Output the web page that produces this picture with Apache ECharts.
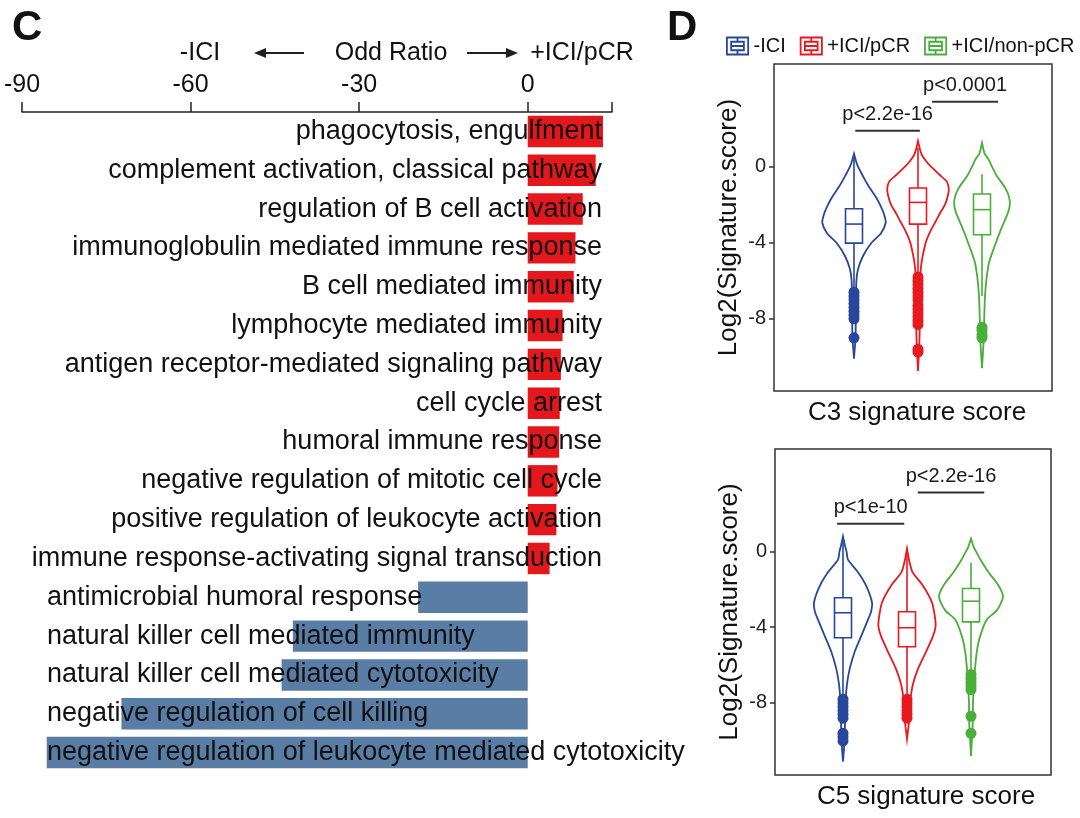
<!DOCTYPE html>
<html><head><meta charset="utf-8">
<script src="https://cdn.jsdelivr.net/npm/echarts@6/dist/echarts.min.js"></script>
<style>html,body{margin:0;padding:0;background:#fff}#c{width:1080px;height:818px}</style>
</head><body><div id="c"></div>
<script>
// ---------- Panel C data ----------
const terms = [
  'phagocytosis, engulfment',
  'complement activation, classical pathway',
  'regulation of B cell activation',
  'immunoglobulin mediated immune response',
  'B cell mediated immunity',
  'lymphocyte mediated immunity',
  'antigen receptor-mediated signaling pathway',
  'cell cycle arrest',
  'humoral immune response',
  'negative regulation of mitotic cell cycle',
  'positive regulation of leukocyte activation',
  'immune response-activating signal transduction',
  'antimicrobial humoral response',
  'natural killer cell mediated immunity',
  'natural killer cell mediated cytotoxicity',
  'negative regulation of cell killing',
  'negative regulation of leukocyte mediated cytotoxicity'
];
const oddRatio = [13.4, 12.1, 9.8, 8.5, 8.2, 6.2, 5.9, 5.7, 5.6, 5.3, 5.1, 3.9,
                  -19.5, -41.8, -43.8, -72.3, -85.6];
const oddTicks = [-90, -60, -30, 0];

// ---------- Panel D data ----------
const groups = ['-ICI', '+ICI/pCR', '+ICI/non-pCR'];
const sigTicks = [-8, -4, 0];
// box stats: [lower whisker, Q1, median, Q3, upper whisker]
const c3Box = [[-6.5, -4.02, -3.02, -2.21, 0.5], [-5.7, -3.02, -1.88, -1.12, 1.0], [-6.8, -3.58, -2.26, -1.44, -0.4]];
const c5Box = [[-7.6, -4.56, -3.24, -2.45, 0.5], [-7.6, -5.03, -4.03, -3.19, -0.1], [-6.3, -3.72, -2.63, -1.96, -0.6]];
// violin density profiles (value levels and relative density)
const c3BlueY  = [0.68, 0.3, 0, -0.5, -0.68, -1.1, -1.58, -2, -2.5, -2.95, -3.5, -4, -4.7, -5.4, -6, -7, -8, -9, -10.1];
const c3BlueD  = [0, 2, 4, 9, 10.8, 15.5, 21.7, 26, 30, 31.7, 27, 17.5, 9, 4, 2.4, 2, 1.8, 1.5, 0];
const c3RedY   = [1.35, 0.9, 0.6, 0.3, 0, -0.4, -0.8, -1.2, -1.6, -2, -2.4, -2.9, -3.3, -3.8, -4.2, -5, -5.6, -7, -9, -10.75];
const c3RedD   = [0, 2, 4, 8, 13, 21, 29, 30.8, 29.5, 27, 22.5, 17.5, 13.3, 9, 6.7, 3.7, 2.5, 2, 1.5, 0];
const c3GreenY = [1.26, 0.7, 0.37, 0, -0.5, -1.1, -1.58, -2, -2.42, -3.3, -4.2, -5.05, -5.9, -6.8, -8, -9, -10.6];
const c3GreenD = [0, 2.5, 6.7, 10, 15, 23, 27, 27.8, 26, 19, 12.5, 7, 4.5, 3, 2.2, 1.8, 0];
const c5BlueY  = [0.79, 0.3, 0, -0.44, -1.1, -1.8, -2.7, -3.2, -3.6, -4.5, -5.3, -6.2, -7, -8, -9, -10, -11.1];
const c5BlueD  = [0, 2, 3.5, 5, 15, 23, 29, 28, 25, 18, 11.7, 6.7, 4, 2.5, 2, 1.5, 0];
const c5RedY   = [0.15, -0.44, -1.1, -1.8, -2.7, -3.6, -4.0, -4.5, -5.3, -6.2, -7, -8, -9, -9.9];
const c5RedD   = [0, 2, 5.5, 15.8, 25, 28.3, 28.5, 25.8, 19, 11, 6, 3, 2, 0];
const c5GreenY = [0.67, 0.2, 0, -0.44, -1.1, -1.8, -2.4, -3.1, -3.6, -4.5, -5.3, -6.2, -7, -8, -9, -10.8];
const c5GreenD = [0, 3, 5, 9.5, 17.5, 27.5, 32, 26, 15.8, 9, 5.8, 4, 3, 2, 1.8, 0];
// outliers
const c3Out = [
  [-6.6, -6.8, -7.0, -7.2, -7.4, -7.6, -7.8, -8.0, -9.0],
  [-5.8, -6.0, -6.2, -6.4, -6.6, -6.8, -7.0, -7.3, -7.5, -7.7, -7.9, -8.1, -8.3, -9.6, -9.75],
  [-8.45, -8.6, -8.85, -9.0]
];
const c5Out = [
  [-7.8, -8.0, -8.2, -8.4, -8.6, -8.8, -9.6, -9.8, -10.0],
  [-7.8, -8.0, -8.2, -8.4, -8.6, -8.8],
  [-6.5, -6.7, -6.9, -7.1, -7.3, -8.7, -9.6]
];
const c3Sig = ['p<2.2e-16', 'p<0.0001'];
const c5Sig = ['p<1e-10', 'p<2.2e-16'];

// ---------- layout / style ----------
const FONT = 'Liberation Sans, Arial, sans-serif';
const RED = '#e3171c', BLUEBAR = '#5a7da6';
const gColors = ['#26479a', '#e8191f', '#4aae3a'];
const topPos = [1.25, 2.25, 3.25];
const botPos = [1.0625, 2.0625, 3.0625];
const DENS = 1 / 64;       // density -> x units
const BOXHALF = 8.5 / 64;  // box half width in x units
const topBrackets = [[1.27, 2.28, 1.89], [2.47, 3.5, 3.42]];
const botBrackets = [[0.97, 2.02, 1.46], [2.23, 3.27, 3.1]];

const posSet = new Set(terms.filter((t, i) => oddRatio[i] >= 0));
const negSet = new Set(terms.filter((t, i) => oddRatio[i] < 0));

function violinRenderer(profY, profD) {
  return function (params, api) {
    const x = api.value(0);
    const color = api.visual('color');
    const pts = [];
    for (let i = 0; i < profY.length; i++) pts.push(api.coord([x + profD[i] * DENS, profY[i]]));
    for (let i = profY.length - 1; i >= 0; i--) pts.push(api.coord([x - profD[i] * DENS, profY[i]]));
    const lo = api.coord([x, api.value(1)]), q1 = api.coord([x, api.value(2)]),
          med = api.coord([x, api.value(3)]), q3 = api.coord([x, api.value(4)]), hi = api.coord([x, api.value(5)]);
    const l = api.coord([x - BOXHALF, 0])[0], r = api.coord([x + BOXHALF, 0])[0];
    const ls = { stroke: color, lineWidth: 1.6, fill: null };
    return { type: 'group', children: [
      { type: 'polygon', shape: { points: pts, smooth: 0.25 }, style: { fill: '#fff', stroke: color, lineWidth: 1.8 } },
      { type: 'line', shape: { x1: lo[0], y1: lo[1], x2: q1[0], y2: q1[1] }, style: ls },
      { type: 'line', shape: { x1: q3[0], y1: q3[1], x2: hi[0], y2: hi[1] }, style: ls },
      { type: 'rect', shape: { x: l, y: q3[1], width: r - l, height: q1[1] - q3[1] }, style: { fill: '#fff', stroke: color, lineWidth: 1.6 } },
      { type: 'line', shape: { x1: l, y1: med[1], x2: r, y2: med[1] }, style: ls }
    ] };
  };
}
function sigRenderer(labels) {
  return function (params, api) {
    const a = api.coord([api.value(0), api.value(2)]);
    const b = api.coord([api.value(1), api.value(2)]);
    return { type: 'group', children: [
      { type: 'line', shape: { x1: a[0], y1: a[1], x2: b[0], y2: b[1] }, style: { stroke: '#333', lineWidth: 2 } },
      { type: 'text', x: (a[0] + b[0]) / 2, y: a[1] - 16,
        style: { text: labels[params.dataIndex], font: '20px ' + FONT, fill: '#1a1a1a', align: 'center', verticalAlign: 'middle' } }
    ] };
  };
}

const profiles = {
  top: [[c3BlueY, c3BlueD], [c3RedY, c3RedD], [c3GreenY, c3GreenD]],
  bot: [[c5BlueY, c5BlueD], [c5RedY, c5RedD], [c5GreenY, c5GreenD]]
};

const series = [];
series.push({
  type: 'bar', xAxisIndex: 0, yAxisIndex: 0, barCategoryGap: '19%',
  data: oddRatio.map(v => ({ value: v, itemStyle: { color: v >= 0 ? RED : BLUEBAR } })),
  z: 2, silent: true
});
[['top', topPos, c3Box, c3Out, 1, 2], ['bot', botPos, c5Box, c5Out, 2, 3]].forEach(([key, pos, box, outs, xi, yi]) => {
  groups.forEach((g, k) => {
    series.push({
      type: 'custom', name: g, xAxisIndex: xi, yAxisIndex: yi,
      itemStyle: { color: gColors[k] },
      encode: { x: 0, y: [1, 2, 3, 4, 5] },
      data: [[pos[k]].concat(box[k])],
      renderItem: violinRenderer(profiles[key][k][0], profiles[key][k][1]), z: 3
    });
    series.push({
      type: 'scatter', name: g, xAxisIndex: xi, yAxisIndex: yi, symbolSize: 11,
      itemStyle: { color: gColors[k], opacity: 1 },
      data: outs[k].map(v => [pos[k], v]), z: 4
    });
  });
});
series.push({ type: 'custom', xAxisIndex: 1, yAxisIndex: 2, data: topBrackets, renderItem: sigRenderer(c3Sig), encode: { x: [0, 1], y: 2 }, z: 5 });
series.push({ type: 'custom', xAxisIndex: 2, yAxisIndex: 3, data: botBrackets, renderItem: sigRenderer(c5Sig), encode: { x: [0, 1], y: 2 }, z: 5 });

function dYAxis(gi) {
  return {
    gridIndex: gi, type: 'value', min: -11.8, max: 5.4,
    axisLine: { show: false },
    axisTick: { show: true, length: 5, customValues: sigTicks, lineStyle: { color: '#333', width: 1.5 } },
    axisLabel: { customValues: sigTicks, fontSize: 20, color: '#222', margin: 8, fontFamily: FONT },
    splitLine: { show: false },
    name: 'Log2(Signature.score)', nameLocation: 'middle', nameGap: 32,
    nameTextStyle: { fontSize: 26, color: '#111', fontFamily: FONT }
  };
}
function dXAxis(gi, max, name, pad) {
  return {
    gridIndex: gi, type: 'value', min: 0, max: max,
    axisLine: { show: false }, axisTick: { show: false }, axisLabel: { show: false }, splitLine: { show: false },
    name: name, nameLocation: 'middle', nameGap: 9,
    nameTextStyle: { fontSize: 26, color: '#111', fontFamily: FONT, padding: [0, 0, 0, pad] }
  };
}

const legendIcon = 'path://M0,0H20V16H0Z M4,4H16V12H4Z M4,8H16 M10,0V4 M10,12V16';

const option = {
  animation: false,
  backgroundColor: '#fff',
  textStyle: { fontFamily: FONT },
  title: [
    { text: 'C', left: 7, top: 2, textStyle: { fontSize: 42, fontWeight: 'bold', color: '#111', fontFamily: FONT } },
    { text: 'D', left: 662, top: 2, textStyle: { fontSize: 42, fontWeight: 'bold', color: '#111', fontFamily: FONT } }
  ],
  legend: {
    left: 721, top: 31, itemWidth: 22, itemHeight: 17, itemGap: 14, selectedMode: false,
    textStyle: { fontSize: 20, color: '#111', fontFamily: FONT },
    data: groups.map((g, i) => ({ name: g, icon: legendIcon,
      itemStyle: { color: '#fff', borderColor: gColors[i], borderWidth: 1.8 } }))
  },
  grid: [
    { left: 22, top: 112, width: 590, height: 660, outerBoundsMode: 'none' },
    { left: 774, top: 64, width: 278, height: 327, show: true, borderColor: '#333', borderWidth: 1.5, backgroundColor: 'transparent', outerBoundsMode: 'none' },
    { left: 775, top: 449, width: 276, height: 326, show: true, borderColor: '#333', borderWidth: 1.5, backgroundColor: 'transparent', outerBoundsMode: 'none' }
  ],
  xAxis: [
    {
      gridIndex: 0, type: 'value', position: 'top', min: -90, max: 15,
      axisLine: { show: true, lineStyle: { color: '#222', width: 1.5 } },
      axisTick: { show: true, length: 10, customValues: oddTicks.concat([15]), lineStyle: { color: '#222', width: 1.5 } },
      axisLabel: { customValues: oddTicks, fontSize: 25, color: '#111', margin: 14, fontFamily: FONT },
      splitLine: { show: false }
    },
    dXAxis(1, 278 / 64, 'C3 signature score', 8),
    dXAxis(2, 276 / 64, 'C5 signature score', 26)
  ],
  yAxis: [
    {
      gridIndex: 0, type: 'category', data: terms, inverse: true, position: 'left', z: 10,
      axisLine: { show: false }, axisTick: { show: false },
      axisLabel: { inside: true, margin: 25, interval: 0, fontSize: 27, color: '#111', fontFamily: FONT,
        formatter: v => negSet.has(v) ? v : '' }
    },
    {
      gridIndex: 0, type: 'category', data: terms, inverse: true, position: 'right', offset: -10, z: 10,
      axisLine: { show: false }, axisTick: { show: false },
      axisLabel: { inside: true, margin: 0, interval: 0, fontSize: 27, color: '#111', fontFamily: FONT,
        formatter: v => posSet.has(v) ? v : '' }
    },
    dYAxis(1),
    dYAxis(2)
  ],
  graphic: [
    { type: 'text', x: 200, y: 53, style: { text: '-ICI', font: '25px ' + FONT, fill: '#111', align: 'center', verticalAlign: 'middle' } },
    { type: 'text', x: 391, y: 53, style: { text: 'Odd Ratio', font: '25px ' + FONT, fill: '#111', align: 'center', verticalAlign: 'middle' } },
    { type: 'text', x: 582, y: 53, style: { text: '+ICI/pCR', font: '25px ' + FONT, fill: '#111', align: 'center', verticalAlign: 'middle' } },
    { type: 'line', shape: { x1: 262, y1: 53, x2: 304, y2: 53 }, style: { stroke: '#231f20', lineWidth: 2 } },
    { type: 'polygon', shape: { points: [[254, 53], [266, 48], [266, 58]] }, style: { fill: '#231f20' } },
    { type: 'line', shape: { x1: 467, y1: 53, x2: 510, y2: 53 }, style: { stroke: '#231f20', lineWidth: 2 } },
    { type: 'polygon', shape: { points: [[518, 53], [506, 48], [506, 58]] }, style: { fill: '#231f20' } }
  ],
  series: series
};

const chart = echarts.init(document.getElementById('c'), null, { renderer: 'canvas' });
chart.setOption(option);
</script>
</body></html>
